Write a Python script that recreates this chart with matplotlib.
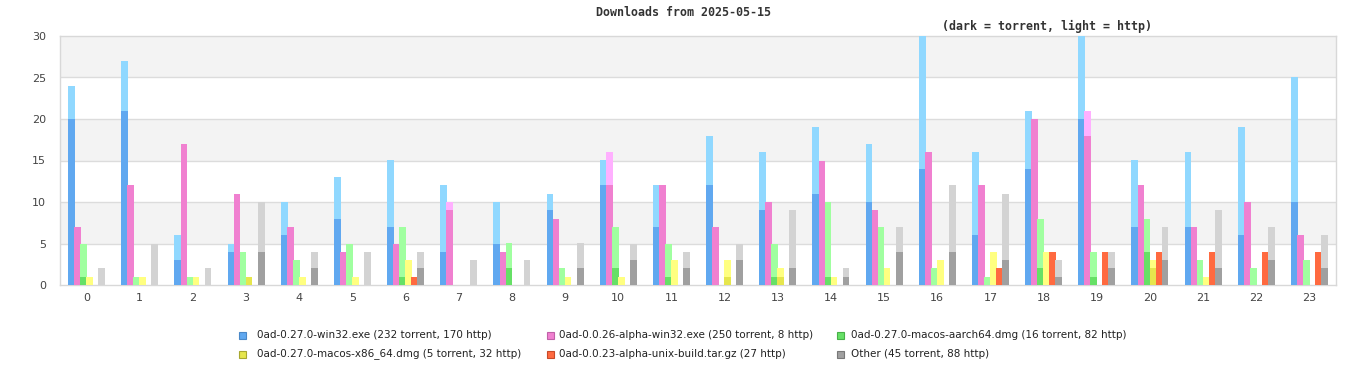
import matplotlib.pyplot as plt
import matplotlib.patches as mpatches
import numpy as np

hours = list(range(24))

series_names = [
    "0ad-0.27.0-win32.exe (232 torrent, 170 http)",
    "0ad-0.0.26-alpha-win32.exe (250 torrent, 8 http)",
    "0ad-0.27.0-macos-aarch64.dmg (16 torrent, 82 http)",
    "0ad-0.27.0-macos-x86_64.dmg (5 torrent, 32 http)",
    "0ad-0.0.23-alpha-unix-build.tar.gz (27 http)",
    "Other (45 torrent, 88 http)",
]

# downloads per hour, torrent part
win32_torrent = [20, 21, 3, 4, 6, 8, 7, 4, 5, 9, 12, 7, 12, 9, 11, 10, 14, 6, 14, 20, 7, 7, 6, 10]
a26_torrent = [7, 12, 17, 11, 7, 4, 5, 9, 4, 8, 12, 12, 7, 10, 15, 9, 16, 12, 20, 18, 12, 7, 10, 6]
aarch64_torrent = [1, 0, 0, 0, 0, 0, 1, 0, 2, 0, 2, 1, 0, 1, 1, 0, 0, 0, 2, 1, 4, 0, 0, 0]
x86_torrent = [0, 0, 0, 1, 0, 0, 0, 0, 0, 0, 0, 0, 1, 1, 0, 0, 0, 0, 0, 0, 2, 0, 0, 0]
a23_torrent = [0] * 24
other_torrent = [0, 0, 0, 4, 2, 0, 2, 0, 0, 2, 3, 2, 3, 2, 1, 4, 4, 3, 1, 2, 3, 2, 3, 2]

# downloads per hour, http part
win32_http = [4, 6, 3, 1, 4, 5, 8, 8, 5, 2, 3, 5, 6, 7, 8, 7, 16, 10, 7, 10, 8, 9, 13, 15]
a26_http = [0, 0, 0, 0, 0, 0, 0, 1, 0, 0, 4, 0, 0, 0, 0, 0, 0, 0, 0, 3, 0, 0, 0, 0]
aarch64_http = [4, 1, 1, 4, 3, 5, 6, 0, 3, 2, 5, 4, 0, 4, 9, 7, 2, 1, 6, 3, 4, 3, 2, 3]
x86_http = [1, 1, 1, 0, 1, 1, 3, 0, 0, 1, 1, 3, 2, 1, 1, 2, 3, 4, 4, 0, 1, 1, 0, 0]
a23_http = [0, 0, 0, 0, 0, 0, 1, 0, 0, 0, 0, 0, 0, 0, 0, 0, 0, 2, 4, 4, 4, 4, 4, 4]
other_http = [2, 5, 2, 6, 2, 4, 2, 3, 3, 3, 2, 2, 2, 7, 1, 3, 8, 8, 2, 2, 4, 7, 4, 4]

torrent = [win32_torrent, a26_torrent, aarch64_torrent, x86_torrent, a23_torrent, other_torrent]
http = [win32_http, a26_http, aarch64_http, x86_http, a23_http, other_http]

dark_colors = ["#60a8f0", "#f080d0", "#66e066", "#e6e64d", "#ff6a40", "#a0a0a0"]
light_colors = ["#90d8ff", "#ffb0ff", "#a0ffa0", "#ffff80", "#ff6a40", "#d3d3d3"]
edge_colors = ["#4a88c8", "#c060a8", "#48b048", "#a8a830", "#c84a28", "#787878"]

fig = plt.figure(figsize=(13.66, 3.8), dpi=100)
ax = fig.add_axes([60 / 1366, 1 - 285 / 380, 1276 / 1366, 249 / 380])

# alternating background bands
for lo in range(0, 30, 5):
    if (lo // 5) % 2 == 1:
        ax.axhspan(lo, lo + 5, color="#f3f3f3", zorder=0, lw=0)
for yv in range(5, 30, 5):
    ax.axhline(yv, color="#dcdcdc", lw=1, zorder=1)

x = np.arange(24)
step = 0.113
width = 0.128
for i in range(6):
    xs = x + (i - 2.5) * step
    t = np.array(torrent[i])
    h = np.array(http[i])
    ax.bar(xs, t, width=width, color=dark_colors[i], lw=0, zorder=3)
    ax.bar(xs, h, bottom=t, width=width, color=light_colors[i], lw=0, zorder=3)

ax.set_xlim(-0.5, 23.5)
ax.set_ylim(0, 30)
ax.set_xticks(x)
ax.set_xticklabels([str(hh) for hh in hours])
ax.set_yticks(range(0, 31, 5))
ax.tick_params(length=0, labelsize=8, colors="#444444", pad=6)
ax.tick_params(axis="y", pad=10)
for s in ax.spines.values():
    s.set_color("#d8d8d8")
    s.set_linewidth(1)

fig.text(683 / 1366, 1 - 13 / 380, "Downloads from 2025-05-15", ha="center", va="center",
         family="DejaVu Sans Mono", weight="bold", fontsize=8.4, color="#333333")
fig.text(1047 / 1366, 1 - 26 / 380, "(dark = torrent, light = http)", ha="center", va="center",
         family="DejaVu Sans Mono", weight="bold", fontsize=8.4, color="#333333")

# legend, laid out in rows of three
marker_x = [242.5, 550, 840.5]
text_x = [257, 559, 851]
legend_y = [335, 354]
for k, name in enumerate(series_names):
    r, c = divmod(k, 3)
    py = 1 - legend_y[r] / 380
    fig.patches.append(mpatches.Rectangle(((marker_x[c] - 3.5) / 1366, py - 3.5 / 380), 7 / 1366, 7 / 380,
                                          transform=fig.transFigure, facecolor=dark_colors[k],
                                          edgecolor=edge_colors[k], lw=0.8))
    fig.text(text_x[c] / 1366, py, name, ha="left", va="center", fontsize=7.5,
             family="DejaVu Sans", color="#222222")

fig.savefig("out.png", dpi=100)
